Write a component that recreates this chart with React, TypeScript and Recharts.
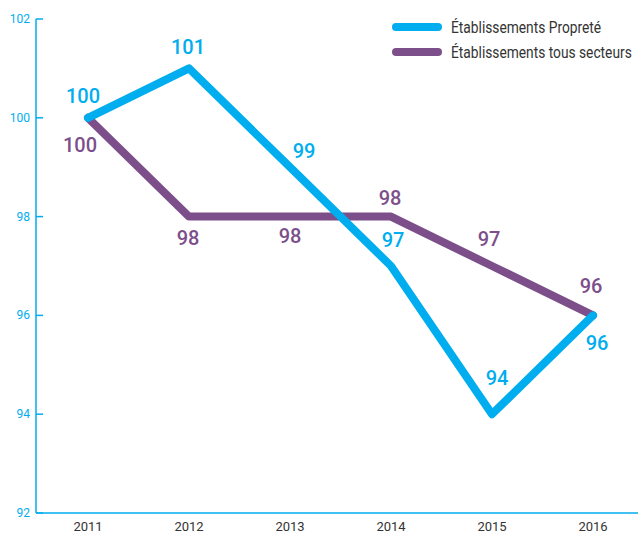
import { LabelList, Legend, Line, LineChart, XAxis, YAxis } from "recharts";

const years = ["2011", "2012", "2013", "2014", "2015", "2016"];
const proprete = [100, 101, 99, 97, 94, 96];
const tousSecteurs = [100, 98, 98, 98, 97, 96];
const yTicks = [92, 94, 96, 98, 100, 102];

const BLUE = "#00adee";
const PURPLE = "#7c4f8a";
const AXIS_FONT = "Roboto, sans-serif";
const LABEL_FONT = "Roboto, 'Open Sans', sans-serif";

// label offsets from each point, in px (dx, dy)
const blueOffsets = [
  [-5, -22],
  [-1, -21],
  [14, -16],
  [2, -26],
  [5, -36],
  [4, 28],
];
const purpleOffsets = [
  [-8, 27],
  [-1, 21],
  [0, 19],
  [-1, -19],
  [-3, -27],
  [-2, -29],
];

const data = years.map((year, i) => ({
  year,
  proprete: proprete[i],
  tous: tousSecteurs[i],
}));

function makeLabel(color: string, offsets: number[][]) {
  return (props: any) => {
    const { x, y, value, index } = props;
    const [dx, dy] = offsets[index] || [0, 0];
    return (
      <text
        x={x + dx}
        y={y + dy}
        textAnchor="middle"
        dominantBaseline="central"
        fill={color}
        fontSize={20}
        fontWeight={500}
        fontFamily={LABEL_FONT}
      >
        {value}
      </text>
    );
  };
}

function YTick({ x, y, payload }: any) {
  return (
    <g>
      <line x1={x + 6} x2={x + 13} y1={y} y2={y} stroke={BLUE} strokeWidth={1.5} />
      <text
        x={x}
        y={y}
        textAnchor="end"
        dominantBaseline="central"
        fill={BLUE}
        fontSize={12}
        fontFamily={AXIS_FONT}
      >
        {payload.value}
      </text>
    </g>
  );
}

function XTick({ x, y, payload }: any) {
  return (
    <text
      x={x}
      y={y + 10}
      textAnchor="middle"
      fill="#333"
      fontSize={13}
      fontFamily={AXIS_FONT}
    >
      {payload.value}
    </text>
  );
}

function LegendBox() {
  const items = [
    { label: "Établissements Propreté", color: BLUE },
    { label: "Établissements tous secteurs", color: PURPLE },
  ];
  return (
    <div style={{ display: "flex", flexDirection: "column", gap: 7 }}>
      {items.map((it) => (
        <div key={it.label} style={{ display: "flex", alignItems: "center", height: 18 }}>
          <span
            style={{
              display: "inline-block",
              width: 50,
              height: 8,
              borderRadius: 4,
              background: it.color,
              marginRight: 9,
              flexShrink: 0,
            }}
          />
          <span
            style={{
              fontFamily: AXIS_FONT,
              fontSize: 16,
              color: "#333",
              whiteSpace: "nowrap",
              display: "inline-block",
              transform: "scaleX(0.86)",
              transformOrigin: "left center",
            }}
          >
            {it.label}
          </span>
        </div>
      ))}
    </div>
  );
}

export default function App() {
  return (
    <div style={{ position: "absolute", left: 0, top: 0, width: 638, height: 539, background: "#fff" }}>
      <LineChart width={638} height={539} data={data} margin={{ top: 19, right: 0, left: 0, bottom: 0 }}>
        <XAxis
          dataKey="year"
          height={26}
          padding={{ left: 52, right: 45 }}
          axisLine={{ stroke: BLUE, strokeWidth: 1.5 }}
          tickLine={false}
          tick={<XTick />}
        />
        <YAxis
          width={36}
          domain={[92, 102]}
          ticks={yTicks}
          interval={0}
          axisLine={{ stroke: BLUE, strokeWidth: 1.5 }}
          tickLine={false}
          tickSize={0}
          tickMargin={6}
          tick={<YTick />}
        />
        <Legend
          verticalAlign="middle"
          align="center"
          content={<LegendBox />}
          wrapperStyle={{ top: 18, left: 392, right: "auto", width: 246 }}
        />
        <Line
          dataKey="tous"
          stroke={PURPLE}
          strokeWidth={8}
          strokeLinejoin="round"
          strokeLinecap="round"
          dot={false}
          activeDot={false}
          type="linear"
          isAnimationActive={false}
        >
          <LabelList dataKey="tous" content={makeLabel(PURPLE, purpleOffsets)} />
        </Line>
        <Line
          dataKey="proprete"
          stroke={BLUE}
          strokeWidth={8}
          strokeLinejoin="round"
          strokeLinecap="round"
          dot={false}
          activeDot={false}
          type="linear"
          isAnimationActive={false}
        >
          <LabelList dataKey="proprete" content={makeLabel(BLUE, blueOffsets)} />
        </Line>
      </LineChart>
    </div>
  );
}
